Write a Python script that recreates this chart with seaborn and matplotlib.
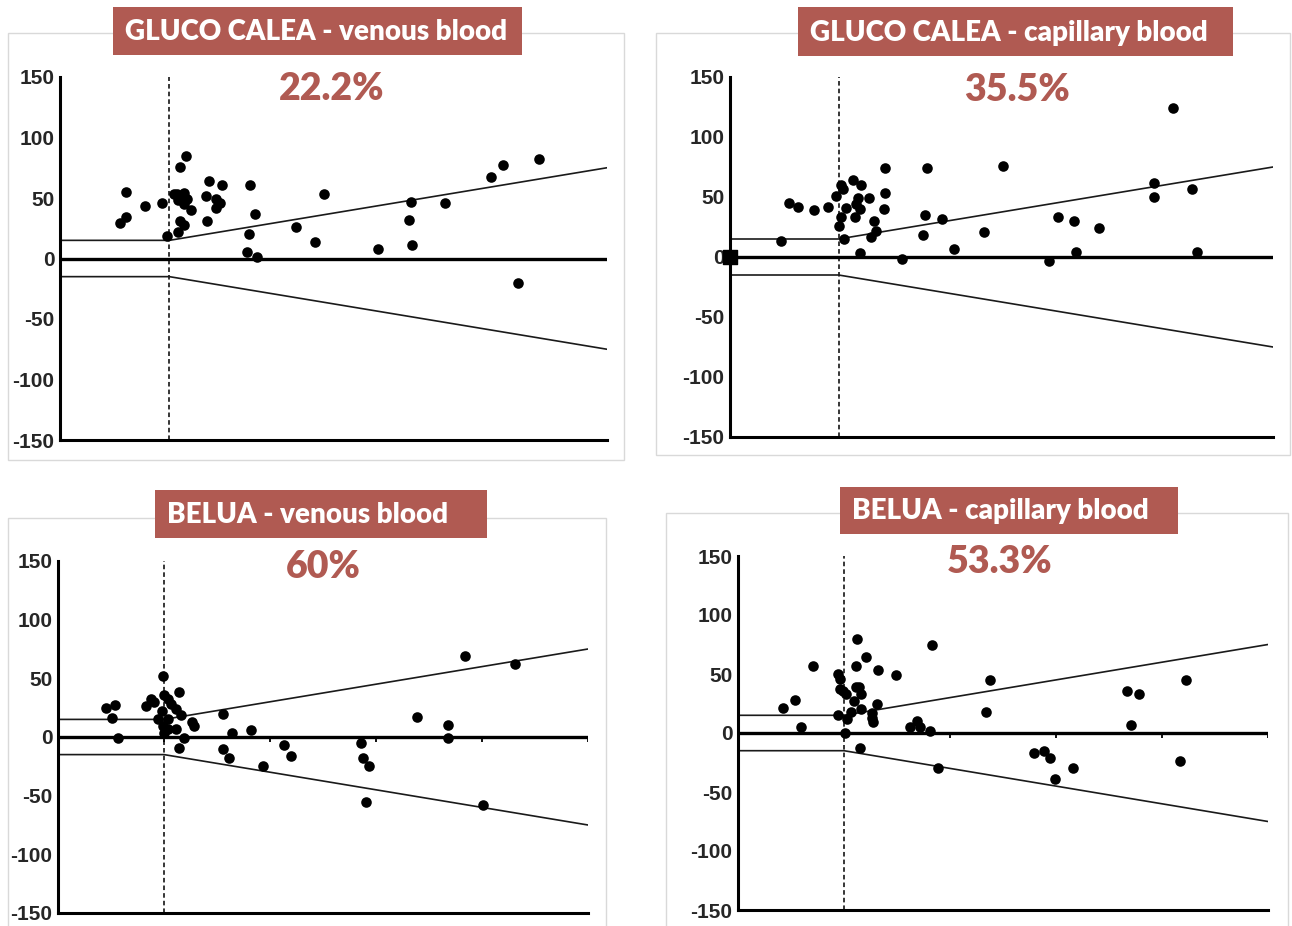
import matplotlib
matplotlib.use("Agg")
import matplotlib.pyplot as plt
from matplotlib.patches import Rectangle
import seaborn as sns
import pandas as pd

# ISO 15197 acceptance limits: +/-15 mg/dL below 100, +/-15 % above
iso_x = [0, 100, 500]
iso_upper = [15, 15, 75]
iso_lower = [-15, -15, -75]
y_ticks = [150, 100, 50, 0, -50, -100, -150]
zero_ticks = [100, 200, 300, 400, 500]

titles = ["GLUCO CALEA - venous blood", "GLUCO CALEA - capillary blood",
          "BELUA - venous blood", "BELUA - capillary blood"]
percents = ["22.2%", "35.5%", "60%", "53.3%"]

gc_venous_x = [60, 60, 55, 78, 93, 98, 115, 110, 104, 107, 113, 108, 116, 113, 120, 110, 113, 108,
               136, 148, 133, 143, 146, 143, 134, 174, 178, 173, 171, 180, 241, 216, 233, 291,
               319, 321, 322, 352, 394, 405, 438, 419]
gc_venous_y = [55, 34, 29, 43, 46, 19, 85, 76, 53, 53, 54, 48, 49, 45, 40, 31, 28, 22,
               64, 61, 52, 49, 46, 42, 31, 61, 37, 20, 5, 1, 53, 26, 14, 8,
               32, 47, 11, 46, 67, 77, 82, -20]

gc_capillary_x = [47, 54, 63, 77, 90, 102, 104, 98, 107, 102, 100, 105, 113, 121, 118, 116, 120, 115,
                  128, 143, 143, 142, 133, 134, 130, 120, 158, 181, 180, 195, 178, 206, 234, 251,
                  302, 317, 340, 294, 319, 390, 390, 408, 425, 430]
gc_capillary_y = [13, 45, 42, 39, 42, 60, 57, 51, 41, 33, 26, 15, 64, 60, 49, 44, 40, 33,
                  49, 74, 53, 40, 30, 22, 17, 3, -2, 74, 35, 32, 18, 7, 21, 76,
                  33, 30, 24, -3, 4, 62, 50, 124, 57, 4]

belua_venous_x = [45, 54, 51, 57, 83, 88, 91, 99, 100, 104, 107, 111, 114, 98, 94, 104, 116, 99,
                  104, 111, 100, 126, 128, 119, 114, 156, 164, 182, 156, 161, 193, 213, 220,
                  286, 288, 293, 291, 339, 368, 368, 384, 431, 401]
belua_venous_y = [25, 27, 16, -1, 26, 32, 30, 52, 36, 32, 28, 24, 38, 22, 15, 15, 19, 9,
                  7, 7, 3, 13, 9, -1, -9, 20, 3, 6, -10, -18, -25, -7, -16,
                  -5, -18, -25, -55, 17, 10, -1, 69, 62, -58]

belua_capillary_x = [42, 54, 59, 71, 94, 96, 96, 99, 102, 94, 103, 101, 112, 111, 121, 111, 114, 116,
                     109, 107, 116, 131, 132, 149, 126, 126, 127, 115, 162, 169, 172, 181, 183, 189,
                     238, 234, 279, 289, 294, 299, 316, 367, 378, 371, 423, 417]
belua_capillary_y = [21, 28, 5, 57, 50, 46, 37, 36, 33, 15, 12, 0, 80, 57, 64, 39, 39, 33,
                     27, 18, 20, 25, 53, 49, 17, 13, 9, -13, 5, 10, 5, 2, 75, -30,
                     45, 18, -17, -15, -21, -39, -30, 36, 33, 7, 45, -24]

# odd square marker sitting at the origin of the capillary GLUCO CALEA panel
square_x = [0]
square_y = [0]

series = [(gc_venous_x, gc_venous_y), (gc_capillary_x, gc_capillary_y),
          (belua_venous_x, belua_venous_y), (belua_capillary_x, belua_capillary_y)]

RED = "#b05a52"
W, H = 1292, 926


def fx(px):
    return px / W


def fy(py):
    return 1 - py / H


# layout in pixels: axes (left, right, top, bottom), frame (l, t, r, b), title box (l, t, r, b), percent (cx, cy)
layout = [
    dict(ax=(60, 607, 77, 440), frame=(8, 33, 624, 460), box=(113, 7, 522, 55), pct=(332, 89)),
    dict(ax=(730, 1273, 77, 437), frame=(656, 33, 1290, 455), box=(798, 7, 1233, 56), pct=(1017, 90)),
    dict(ax=(58, 588, 561, 913), frame=(8, 518, 606, 940), box=(155, 490, 487, 538), pct=(323, 567)),
    dict(ax=(738, 1268, 556, 910), frame=(666, 513, 1288, 940), box=(840, 487, 1178, 534), pct=(1000, 562)),
]

sns.set_theme(style="white")
plt.rcParams["font.family"] = ["Liberation Sans Narrow", "Liberation Sans", "DejaVu Sans"]

fig = plt.figure(figsize=(W / 100, H / 100), dpi=100)
fig.patch.set_facecolor("white")

for i, (lay, (xs, ys)) in enumerate(zip(layout, series)):
    l, r, t, b = lay["ax"]
    ax = fig.add_axes([fx(l), fy(b), fx(r - l), (b - t) / H])
    ax.set_facecolor("none")
    ax.set_xlim(0, 500)
    ax.set_ylim(-150, 150)

    # limit lines and reference lines
    ax.plot(iso_x, iso_upper, color="#1a1a1a", lw=1.2)
    ax.plot(iso_x, iso_lower, color="#1a1a1a", lw=1.2)
    ax.axhline(0, color="black", lw=2.4, zorder=2)
    ax.axvline(100, color="black", lw=1.1, ls=(0, (3, 2)), zorder=1)

    df = pd.DataFrame({"ref": xs, "bias": ys})
    sns.scatterplot(data=df, x="ref", y="bias", ax=ax, color="black", s=58,
                    edgecolor="black", linewidth=0, legend=False, zorder=3, clip_on=False)
    if i == 1:
        ax.scatter(square_x, square_y, marker="s", s=110, color="black", zorder=4, clip_on=False)
    if i >= 2:
        ax.vlines(zero_ticks, -4, 0, color="black", lw=1.3, zorder=2)

    for side in ["top", "right"]:
        ax.spines[side].set_visible(False)
    for side in ["left", "bottom"]:
        ax.spines[side].set_color("black")
        ax.spines[side].set_linewidth(2.2)
    ax.set_yticks(y_ticks)
    ax.set_yticklabels([str(v) for v in y_ticks])
    ax.tick_params(axis="y", length=3, width=1.2, color="black", pad=1, labelsize=15)
    for lab in ax.get_yticklabels():
        lab.set_fontweight("bold")
    ax.tick_params(axis="x", length=0, labelbottom=False)
    ax.set_xlabel("")
    ax.set_ylabel("")

    # frame around each chart
    fl, ft, fr, fb = lay["frame"]
    fig.add_artist(Rectangle((fx(fl), fy(fb)), fx(fr - fl), (fb - ft) / H,
                             transform=fig.transFigure, fill=False,
                             edgecolor="#d9d9d9", lw=1.0, zorder=0))

    # title box
    bl, bt, br, bb = lay["box"]
    fig.add_artist(Rectangle((fx(bl), fy(bb)), fx(br - bl), (bb - bt) / H,
                             transform=fig.transFigure, facecolor=RED,
                             edgecolor="none", zorder=5))
    fig.text(fx(bl + 12), fy((bt + bb) / 2 + 1), titles[i], color="white",
             fontsize=20, fontweight="heavy", family=["Lato", "DejaVu Sans"],
             ha="left", va="center", zorder=6)

    cx, cy = lay["pct"]
    fig.text(fx(cx), fy(cy), percents[i], color=RED, fontsize=27,
             fontweight="heavy", family=["Lato", "DejaVu Sans"],
             ha="center", va="center", zorder=6)

fig.savefig("out.png", dpi=100, facecolor="white")
